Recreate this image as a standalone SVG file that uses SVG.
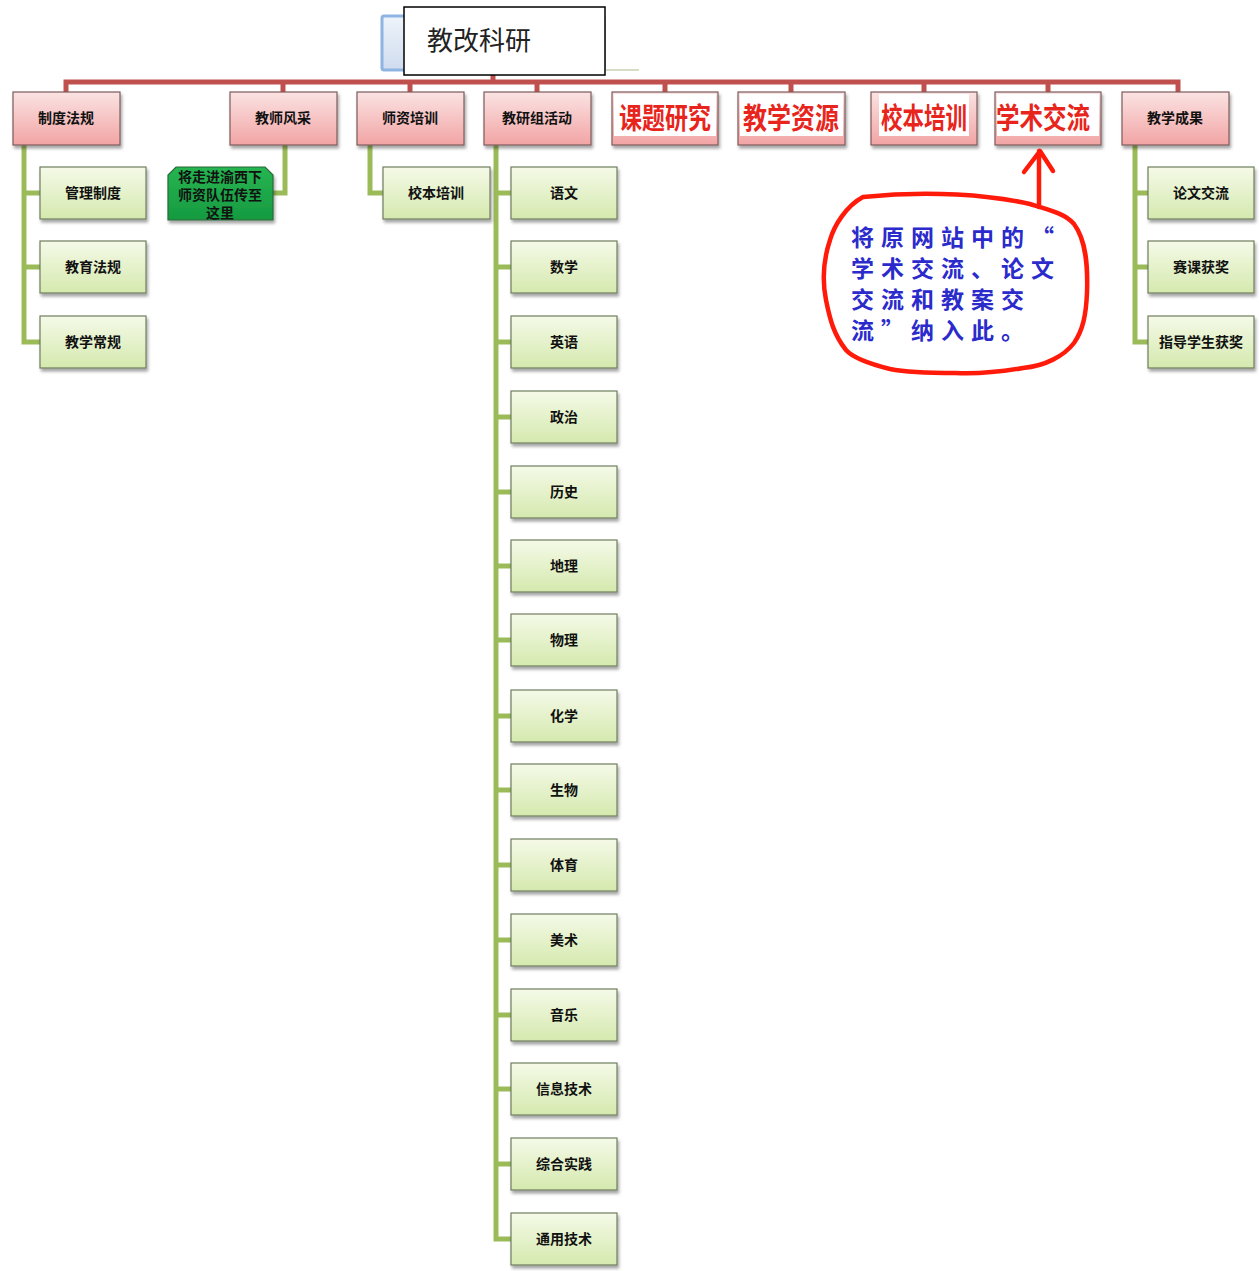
<svg xmlns="http://www.w3.org/2000/svg" width="1259" height="1271" viewBox="0 0 1259 1271">
<defs>
<linearGradient id="gPink" x1="0" y1="0" x2="0" y2="1"><stop offset="0" stop-color="#fbe3e3"/><stop offset="1" stop-color="#f2a4a4"/></linearGradient>
<linearGradient id="gGreen" x1="0" y1="0" x2="0" y2="1"><stop offset="0" stop-color="#f5fae8"/><stop offset="1" stop-color="#d5e9ae"/></linearGradient>
<linearGradient id="gDark" x1="0" y1="0" x2="0" y2="1"><stop offset="0" stop-color="#26b552"/><stop offset="1" stop-color="#169a40"/></linearGradient>
<linearGradient id="gBlue" x1="0" y1="0" x2="0" y2="1"><stop offset="0" stop-color="#eef3fa"/><stop offset="1" stop-color="#cfdcef"/></linearGradient>
<filter id="sh" x="-10%" y="-10%" width="125%" height="135%"><feDropShadow dx="1.5" dy="3" stdDeviation="1.8" flood-color="#000" flood-opacity="0.35"/></filter>
</defs>
<style>
.top{fill:url(#gPink);stroke:#7d5a5a;stroke-width:1.2;filter:url(#sh)}
.leaf{fill:url(#gGreen);stroke:#6f7d5e;stroke-width:1.2;filter:url(#sh)}
.lbl{font-family:"Noto Sans CJK SC","Noto Sans",sans-serif;font-size:14px;font-weight:bold;fill:#111;text-anchor:middle}
.big{font-family:"Noto Sans CJK SC","Noto Sans",sans-serif;font-size:29px;font-weight:bold;fill:#e8251c;text-anchor:middle}
.red{fill:none;stroke:#c0504d;stroke-width:5}
.grn{fill:none;stroke:#9bbb59;stroke-width:5}
.note{font-family:"Noto Sans CJK SC","Noto Sans",sans-serif;font-size:23px;font-weight:bold;fill:#2b2bcc;letter-spacing:7px}
</style>
<rect width="1259" height="1271" fill="#fff"/>

<g id="connectors">
<path class="red" d="M66 92V82H1178V92M493 75V82M283 82V92M410 82V92M537 82V92M665 82V92M791 82V92M924 82V92M1048 82V92"/>
<path class="grn" d="M24 145V342H40M24 193H40M24 267H40"/>
<path class="grn" d="M285 145V193H273"/>
<path class="grn" d="M370 145V193H383"/>
<path class="grn" d="M496 145V1239H511M496 193H511M496 267H511M496 342H511M496 417H511M496 492H511M496 566H511M496 640H511M496 716H511M496 790H511M496 865H511M496 940H511M496 1015H511M496 1089H511M496 1164H511"/>
<path class="grn" d="M1135 145V342H1148M1135 193H1148M1135 267H1148"/>
</g>

<g id="title">
<rect x="382" y="16" width="222" height="54" rx="2" fill="url(#gBlue)" stroke="#8eb4e3" stroke-width="3"/>
<line x1="606" y1="70" x2="639" y2="70" stroke="#a9bd8e" stroke-width="1.2"/>
<rect x="404" y="7" width="201" height="68" fill="#fff" stroke="#000" stroke-width="1.5"/>
<text x="427" y="50" font-family="Noto Sans CJK SC,sans-serif" font-size="26" fill="#222">教改科研</text>
</g>

<g id="n-zhidu"><rect class="top" x="13" y="92" width="107" height="53"/><text class="lbl" x="66" y="123">制度法规</text></g>
<g id="n-jiaoshi"><rect class="top" x="230" y="92" width="107" height="53"/><text class="lbl" x="283" y="123">教师风采</text></g>
<g id="n-shizi"><rect class="top" x="357" y="92" width="107" height="53"/><text class="lbl" x="410" y="123">师资培训</text></g>
<g id="n-jiaoyan"><rect class="top" x="484" y="92" width="107" height="53"/><text class="lbl" x="537" y="123">教研组活动</text></g>
<g id="n-keti"><rect class="top" x="612" y="92" width="106" height="53"/><rect x="614" y="94" width="102" height="42" fill="#fff"/><text class="big" x="665" y="129" textLength="92" lengthAdjust="spacingAndGlyphs">课题研究</text></g>
<g id="n-ziyuan"><rect class="top" x="738" y="92" width="107" height="53"/><rect x="740" y="94" width="103" height="42" fill="#fff"/><text class="big" x="791" y="129" textLength="96" lengthAdjust="spacingAndGlyphs">教学资源</text></g>
<g id="n-xiaoben"><rect class="top" x="871" y="92" width="106" height="53"/><rect x="879" y="94" width="90" height="42" fill="#fff"/><text class="big" x="924" y="129" textLength="86" lengthAdjust="spacingAndGlyphs">校本培训</text></g>
<g id="n-xueshu"><rect class="top" x="995" y="92" width="106" height="53"/><rect x="997" y="94" width="102" height="42" fill="#fff"/><text class="big" x="1043" y="129" textLength="94" lengthAdjust="spacingAndGlyphs">学术交流</text></g>
<g id="n-chengguo"><rect class="top" x="1122" y="92" width="107" height="53"/><text class="lbl" x="1175" y="123">教学成果</text></g>

<g id="n-guanli"><rect class="leaf" x="40" y="167" width="106" height="52"/><text class="lbl" x="93" y="198">管理制度</text></g>
<g id="n-jiaoyufagui"><rect class="leaf" x="40" y="241" width="106" height="52"/><text class="lbl" x="93" y="272">教育法规</text></g>
<g id="n-changgui"><rect class="leaf" x="40" y="316" width="106" height="52"/><text class="lbl" x="93" y="347">教学常规</text></g>

<g id="n-green"><path d="M176 167H265L273 175V220H168V175Z" fill="url(#gDark)" stroke="#2a6b38" stroke-width="1.2" filter="url(#sh)"/>
<text class="lbl" x="220" y="182">将走进渝西下</text><text class="lbl" x="220" y="200">师资队伍传至</text><text class="lbl" x="220" y="218">这里</text></g>

<g id="n-xbpx"><rect class="leaf" x="383" y="167" width="107" height="52"/><text class="lbl" x="436" y="198">校本培训</text></g>

<g id="n-yuwen"><rect class="leaf" x="511" y="167" width="106" height="52"/><text class="lbl" x="564" y="198">语文</text></g>
<g id="n-shuxue"><rect class="leaf" x="511" y="241" width="106" height="52"/><text class="lbl" x="564" y="272">数学</text></g>
<g id="n-yingyu"><rect class="leaf" x="511" y="316" width="106" height="52"/><text class="lbl" x="564" y="347">英语</text></g>
<g id="n-zhengzhi"><rect class="leaf" x="511" y="391" width="106" height="52"/><text class="lbl" x="564" y="422">政治</text></g>
<g id="n-lishi"><rect class="leaf" x="511" y="466" width="106" height="52"/><text class="lbl" x="564" y="497">历史</text></g>
<g id="n-dili"><rect class="leaf" x="511" y="540" width="106" height="52"/><text class="lbl" x="564" y="571">地理</text></g>
<g id="n-wuli"><rect class="leaf" x="511" y="614" width="106" height="52"/><text class="lbl" x="564" y="645">物理</text></g>
<g id="n-huaxue"><rect class="leaf" x="511" y="690" width="106" height="52"/><text class="lbl" x="564" y="721">化学</text></g>
<g id="n-shengwu"><rect class="leaf" x="511" y="764" width="106" height="52"/><text class="lbl" x="564" y="795">生物</text></g>
<g id="n-tiyu"><rect class="leaf" x="511" y="839" width="106" height="52"/><text class="lbl" x="564" y="870">体育</text></g>
<g id="n-meishu"><rect class="leaf" x="511" y="914" width="106" height="52"/><text class="lbl" x="564" y="945">美术</text></g>
<g id="n-yinyue"><rect class="leaf" x="511" y="989" width="106" height="52"/><text class="lbl" x="564" y="1020">音乐</text></g>
<g id="n-xinxi"><rect class="leaf" x="511" y="1063" width="106" height="52"/><text class="lbl" x="564" y="1094">信息技术</text></g>
<g id="n-zonghe"><rect class="leaf" x="511" y="1138" width="106" height="52"/><text class="lbl" x="564" y="1169">综合实践</text></g>
<g id="n-tongyong"><rect class="leaf" x="511" y="1213" width="106" height="52"/><text class="lbl" x="564" y="1244">通用技术</text></g>

<g id="n-lunwen"><rect class="leaf" x="1148" y="167" width="106" height="52"/><text class="lbl" x="1201" y="198">论文交流</text></g>
<g id="n-saike"><rect class="leaf" x="1148" y="241" width="106" height="52"/><text class="lbl" x="1201" y="272">赛课获奖</text></g>
<g id="n-zhidao"><rect class="leaf" x="1148" y="316" width="106" height="52"/><text class="lbl" x="1201" y="347">指导学生获奖</text></g>

<g id="callout">
<path d="M863 197C930 190 990 195 1030 204C1050 210 1066 214 1074 224C1086 240 1088 265 1087 293C1086 315 1083 330 1074 343C1064 356 1045 366 1023 368C1000 372 975 374 955 373C925 373 905 372 890 369C870 364 853 358 846 350C834 335 830 320 826 300C822 280 824 258 830 240C834 226 846 206 863 197Z" fill="#fff" stroke="#ff1a0a" stroke-width="4.5" stroke-linejoin="round"/>
<path d="M1039 207V151M1024 172L1040 151L1053 171" fill="none" stroke="#ff1a0a" stroke-width="4.5" stroke-linecap="round" stroke-linejoin="round"/>
<text class="note" x="851" y="246">将原网站中的“</text>
<text class="note" x="851" y="277">学术交流、论文</text>
<text class="note" x="851" y="308">交流和教案交</text>
<text class="note" x="851" y="339">流”纳入此。</text>
</g>
</svg>
